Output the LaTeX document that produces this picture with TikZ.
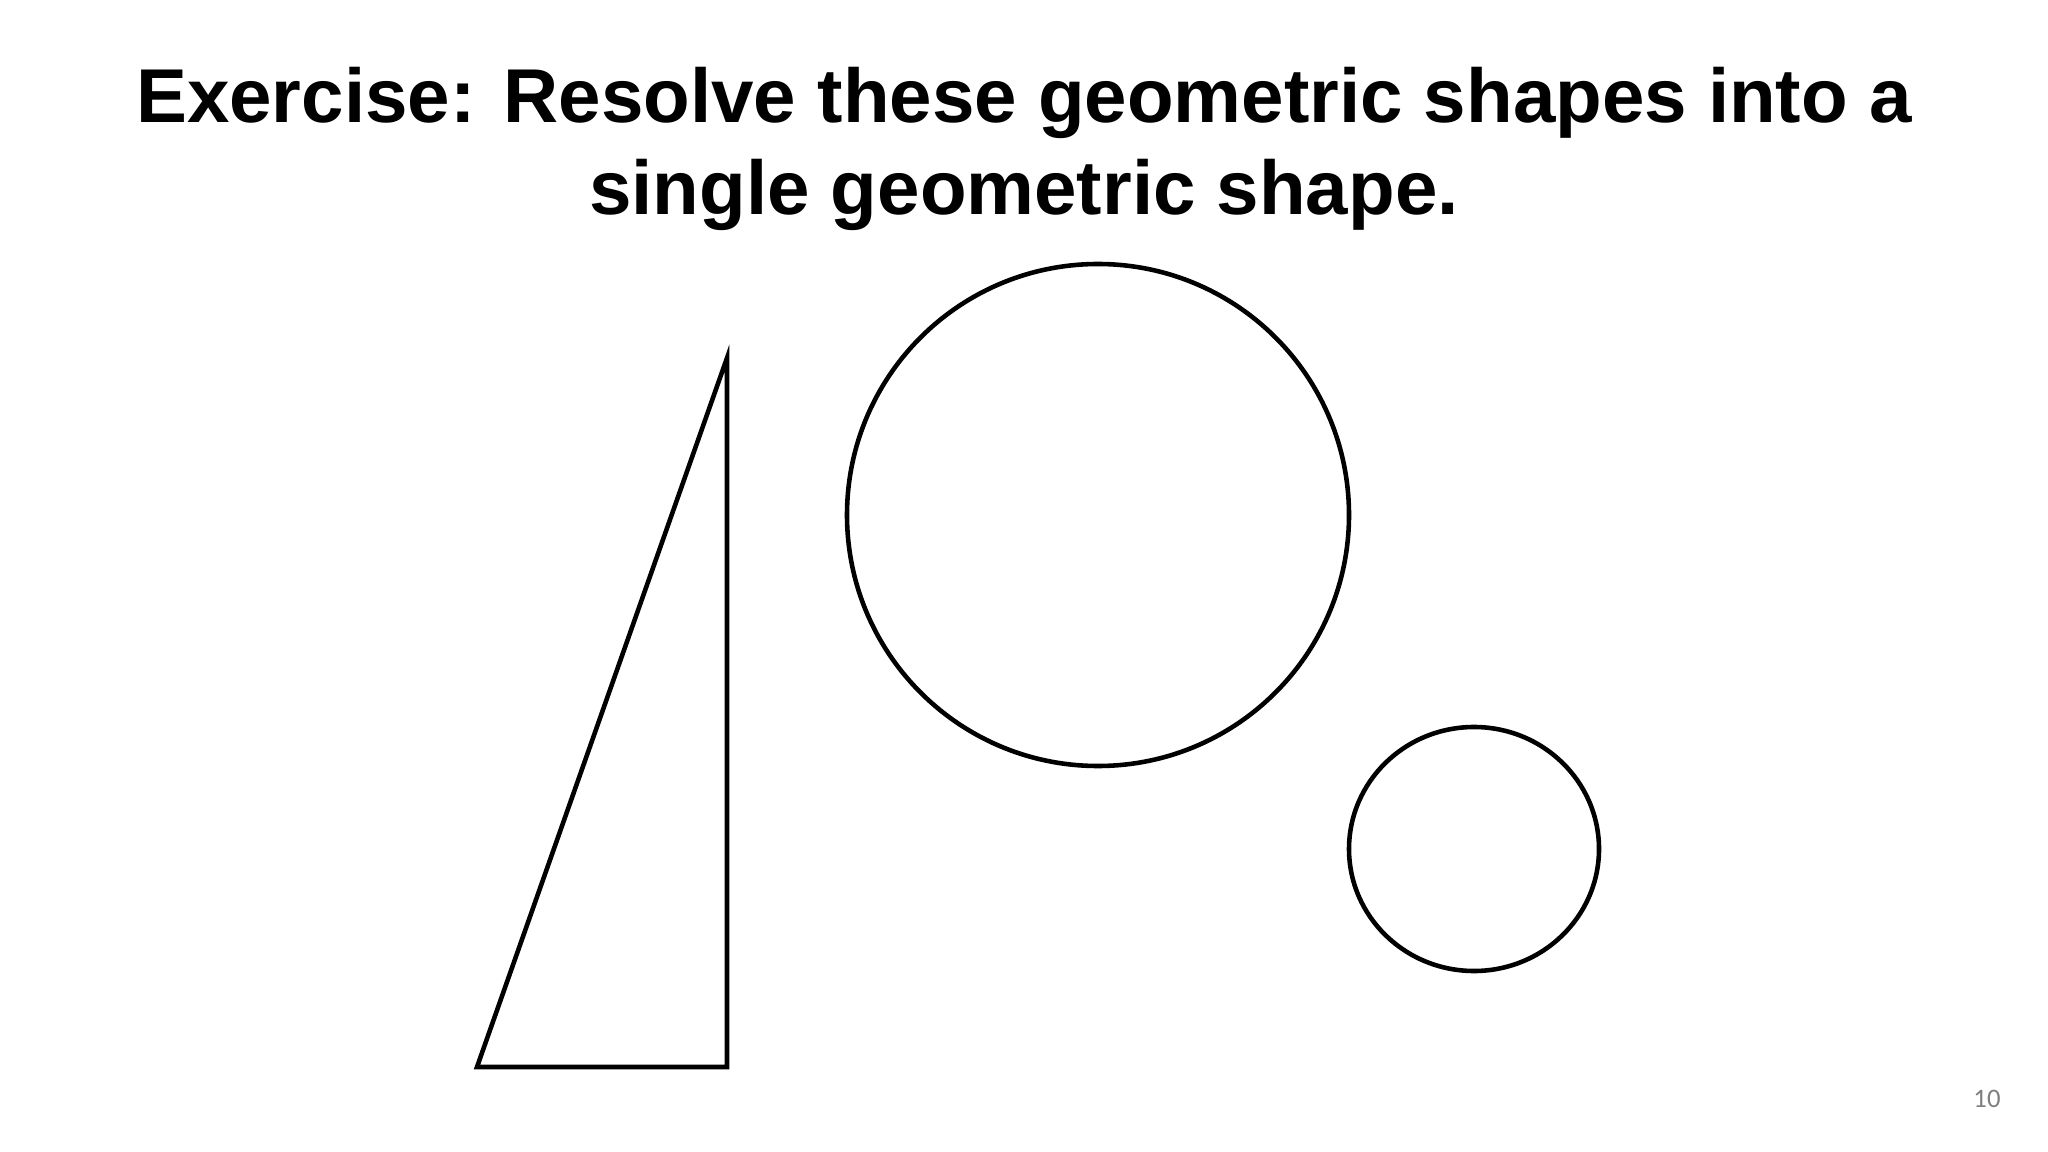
\documentclass[tikz,border=0pt]{standalone}
\usepackage{fontspec}
\setmainfont{Liberation Sans}
\newfontfamily\pgnfont{Carlito}
\definecolor{pggray}{HTML}{7F7F7F}
\tikzstyle{ttl} = [font=\fontsize{21.7}{26}\selectfont\bfseries, anchor=base, inner sep=0pt]
\tikzstyle{shp} = [draw, line width=1.3pt, line join=miter]
\tikzstyle{pgn} = [font=\pgnfont\fontsize{7.6}{9}\selectfont, text=pggray, anchor=base, inner sep=0pt]

\begin{document}
\begin{tikzpicture}[x=0.01cm, y=-0.01cm]
	\useasboundingbox (0,0) rectangle (2048,1152);
	\node [ttl] (t1) at (1024,123) {Exercise: Resolve these geometric shapes into a};
	\node [ttl] (t2) at (1024,215) {single geometric shape.};
	% shapes
	\draw [shp] (727,358) -- (727,1067) -- (477,1067) -- cycle;
	\draw [shp] (1098,515) circle [radius=251];
	\draw [shp] (1474,849) ellipse [x radius=125, y radius=122];
	\node [pgn] (pg) at (1987,1107) {10};
\end{tikzpicture}
\end{document}
